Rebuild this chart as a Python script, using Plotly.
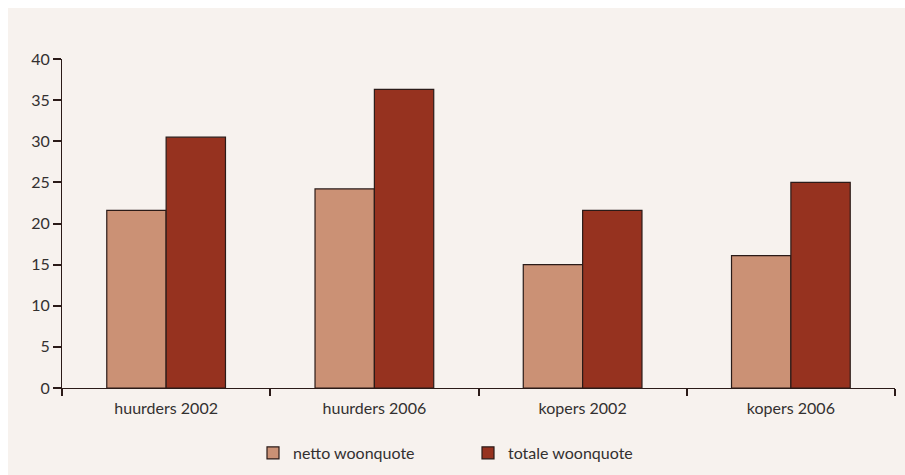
import plotly.graph_objects as go

# Categories and series values
categories = ["huurders 2002", "huurders 2006", "kopers 2002", "kopers 2006"]
netto = [21.6, 24.2, 15.0, 16.1]
totale = [30.5, 36.3, 21.6, 25.0]
series_names = ["netto woonquote", "totale woonquote"]
y_ticks = [0, 5, 10, 15, 20, 25, 30, 35, 40]

BG = "#F7F2EE"
EDGE = "#2B1B18"
TEXT = "#333030"
FONT = "Lato"

fig = go.Figure()
fig.add_trace(go.Bar(
    x=categories, y=netto, name=series_names[0],
    marker=dict(color="#CB9175", line=dict(color=EDGE, width=1.2)),
))
fig.add_trace(go.Bar(
    x=categories, y=totale, name=series_names[1],
    marker=dict(color="#96321F", line=dict(color=EDGE, width=1.2)),
))

# plot area: x 62..895, y 59..388 px
W, H = 905, 475
L, R, T, B = 62, 10, 59, 87
pw = W - L - R
ph = H - T - B

# beige panel inset from the top-left corner
fig.add_shape(
    type="rect", xref="paper", yref="paper", layer="below",
    x0=(8 - L) / pw, x1=(W + 5 - L) / pw,
    y0=(T + ph - (H + 5)) / ph, y1=(T + ph - 8) / ph,
    fillcolor=BG, line=dict(width=0),
)

fig.update_layout(
    width=W, height=H,
    margin=dict(l=L, r=R, t=T, b=B, autoexpand=False),
    paper_bgcolor="white",
    plot_bgcolor=BG,
    barmode="group",
    bargap=0.43,
    bargroupgap=0,
    font=dict(family=FONT, size=16, color=TEXT),
    showlegend=True,
    legend=dict(
        orientation="h", x=(253 - L) / pw, xanchor="left",
        y=-(453 - 388) / ph, yanchor="middle",
        bgcolor="rgba(0,0,0,0)", font=dict(size=16, color=TEXT),
        entrywidth=170, entrywidthmode="pixels", traceorder="normal",
    ),
    xaxis=dict(
        showline=True, linecolor=EDGE, linewidth=1.2,
        ticks="outside", tickson="boundaries", ticklen=7, tickcolor=EDGE, tickwidth=1.5,
        showgrid=False, zeroline=False, automargin=False,
        ticklabelstandoff=6,
        tickfont=dict(size=16, color=TEXT),
    ),
    yaxis=dict(
        range=[0, 40], tickvals=y_ticks,
        showline=True, linecolor=EDGE, linewidth=1.2,
        ticks="outside", ticklen=8, tickcolor=EDGE, tickwidth=1.5,
        showgrid=False, zeroline=False, automargin=False,
        tickfont=dict(size=16, color=TEXT),
    ),
)

fig.write_html("out.html")
